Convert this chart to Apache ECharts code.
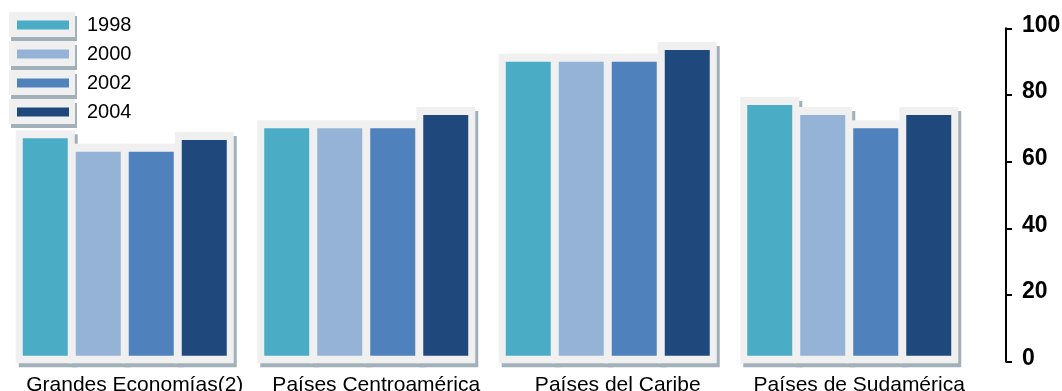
<!DOCTYPE html>
<html>
<head>
<meta charset="utf-8">
<script src="https://cdn.jsdelivr.net/npm/echarts@6/dist/echarts.min.js"></script>
<style>
  html, body { margin: 0; padding: 0; background: #fff; }
  #chart { width: 1062px; height: 391px; }
</style>
</head>
<body>
<div id="chart"></div>
<script>
// Regional groups and survey years
const categories = ['Grandes Economías(2)', 'Países Centroamérica', 'Países del Caribe', 'Países de Sudamérica'];
const years = ['1998', '2000', '2002', '2004'];

// Values per year, one entry per regional group
const v1998 = [67, 70, 90, 77];
const v2000 = [63, 70, 90, 74];
const v2002 = [63, 70, 90, 70];
const v2004 = [66.5, 74, 93.5, 74];

// Value axis ticks
const yMin = 0;
const yMax = 100;
const yStep = 20;

const seriesValues = [v1998, v2000, v2002, v2004];
const colors = ['#4BACC6', '#95B3D7', '#4F81BD', '#1F497D'];

// bar geometry inside each category band
const BAR_W = 45, BAR_STEP = 53, PAD_X = 7, PAD_TOP = 8;
const GROUP_HALF = (BAR_STEP * 3 + BAR_W) / 2;
const FRAME = '#f0f0f0', SHADOW = '#a2b0ba';

const chart = echarts.init(document.getElementById('chart'), null, { renderer: 'canvas' });

// light panel behind every bar, with a drop shadow on the right and bottom
const frameData = [];
seriesValues.forEach((vals, j) => vals.forEach((v, i) => frameData.push([i, v, j])));

const frameSeries = {
  type: 'custom',
  name: 'frames',
  z: 1,
  silent: true,
  encode: { x: 0, y: 1 },
  data: frameData,
  renderItem: (params, api) => {
    const top = api.coord([api.value(0), api.value(1)]);
    const zero = api.coord([api.value(0), 0])[1];
    const j = api.value(2);
    const x = top[0] - GROUP_HALF + j * BAR_STEP - PAD_X;
    const y = top[1] - PAD_TOP;
    const w = BAR_W + PAD_X * 2;
    const h = zero + 1.5 - y;
    return {
      type: 'group',
      children: [
        { type: 'rect', shape: { x: x + 3, y: y + 4, width: w, height: h }, style: { fill: SHADOW } },
        { type: 'rect', shape: { x: x, y: y, width: w, height: h }, style: { fill: FRAME } }
      ]
    };
  }
};

const barSeries = years.map((name, j) => ({
  type: 'custom',
  name: name,
  z: 3,
  encode: { x: 0, y: 1 },
  itemStyle: { color: colors[j] },
  data: seriesValues[j].map((v, i) => [i, v]),
  renderItem: (params, api) => {
    const top = api.coord([api.value(0), api.value(1)]);
    const zero = api.coord([api.value(0), 0])[1];
    const x = top[0] - GROUP_HALF + j * BAR_STEP;
    return {
      type: 'rect',
      shape: { x: x, y: top[1], width: BAR_W, height: zero - 6 - top[1] },
      style: { fill: api.visual('color') }
    };
  }
}));

// framed boxes behind the legend swatches
const legendTop = 15, legendStep = 29;
const legendFrames = [];
years.forEach((y, k) => {
  const cy = legendTop + 10 + k * legendStep;
  legendFrames.push({ type: 'rect', z: 0, shape: { x: 11, y: cy - 12 + 3, width: 66, height: 25 }, style: { fill: SHADOW } });
  legendFrames.push({ type: 'rect', z: 0, shape: { x: 9, y: cy - 13, width: 66, height: 25 }, style: { fill: FRAME } });
});

chart.setOption({
  backgroundColor: '#ffffff',
  animation: false,
  textStyle: { fontFamily: 'Liberation Sans, Arial, sans-serif' },
  graphic: legendFrames,
  legend: {
    orient: 'vertical',
    left: 17,
    top: legendTop,
    padding: 0,
    itemWidth: 52,
    itemHeight: 9,
    itemGap: 9,
    icon: 'rect',
    data: years.map((y, k) => ({ name: y, itemStyle: { color: colors[k] } })),
    textStyle: { fontSize: 20, lineHeight: 20, color: '#000', padding: [0, 0, 0, 13] }
  },
  grid: { left: 4, right: 92, top: 28.3, bottom: 29.3, outerBoundsMode: 'none', containLabel: false },
  xAxis: {
    type: 'category',
    data: categories,
    axisLine: { show: false },
    axisTick: { show: false },
    axisLabel: {
      interval: 0,
      margin: 13,
      fontSize: 21,
      color: '#000',
      padding: [0, 0, 0, 20]
    },
    splitLine: { show: false }
  },
  yAxis: {
    type: 'value',
    position: 'right',
    offset: 36,
    min: yMin,
    max: yMax,
    interval: yStep,
    splitLine: { show: false },
    axisLine: { show: true, lineStyle: { color: '#000', width: 2 } },
    axisTick: { show: true, length: 6, lineStyle: { color: '#000', width: 2 } },
    axisLabel: {
      margin: 16,
      fontSize: 23,
      fontWeight: 'bold',
      color: '#000',
      fontFamily: 'Liberation Sans, Arial, sans-serif',
      verticalAlign: 'bottom',
      lineHeight: 6
    }
  },
  series: [frameSeries, ...barSeries]
});
</script>
</body>
</html>
